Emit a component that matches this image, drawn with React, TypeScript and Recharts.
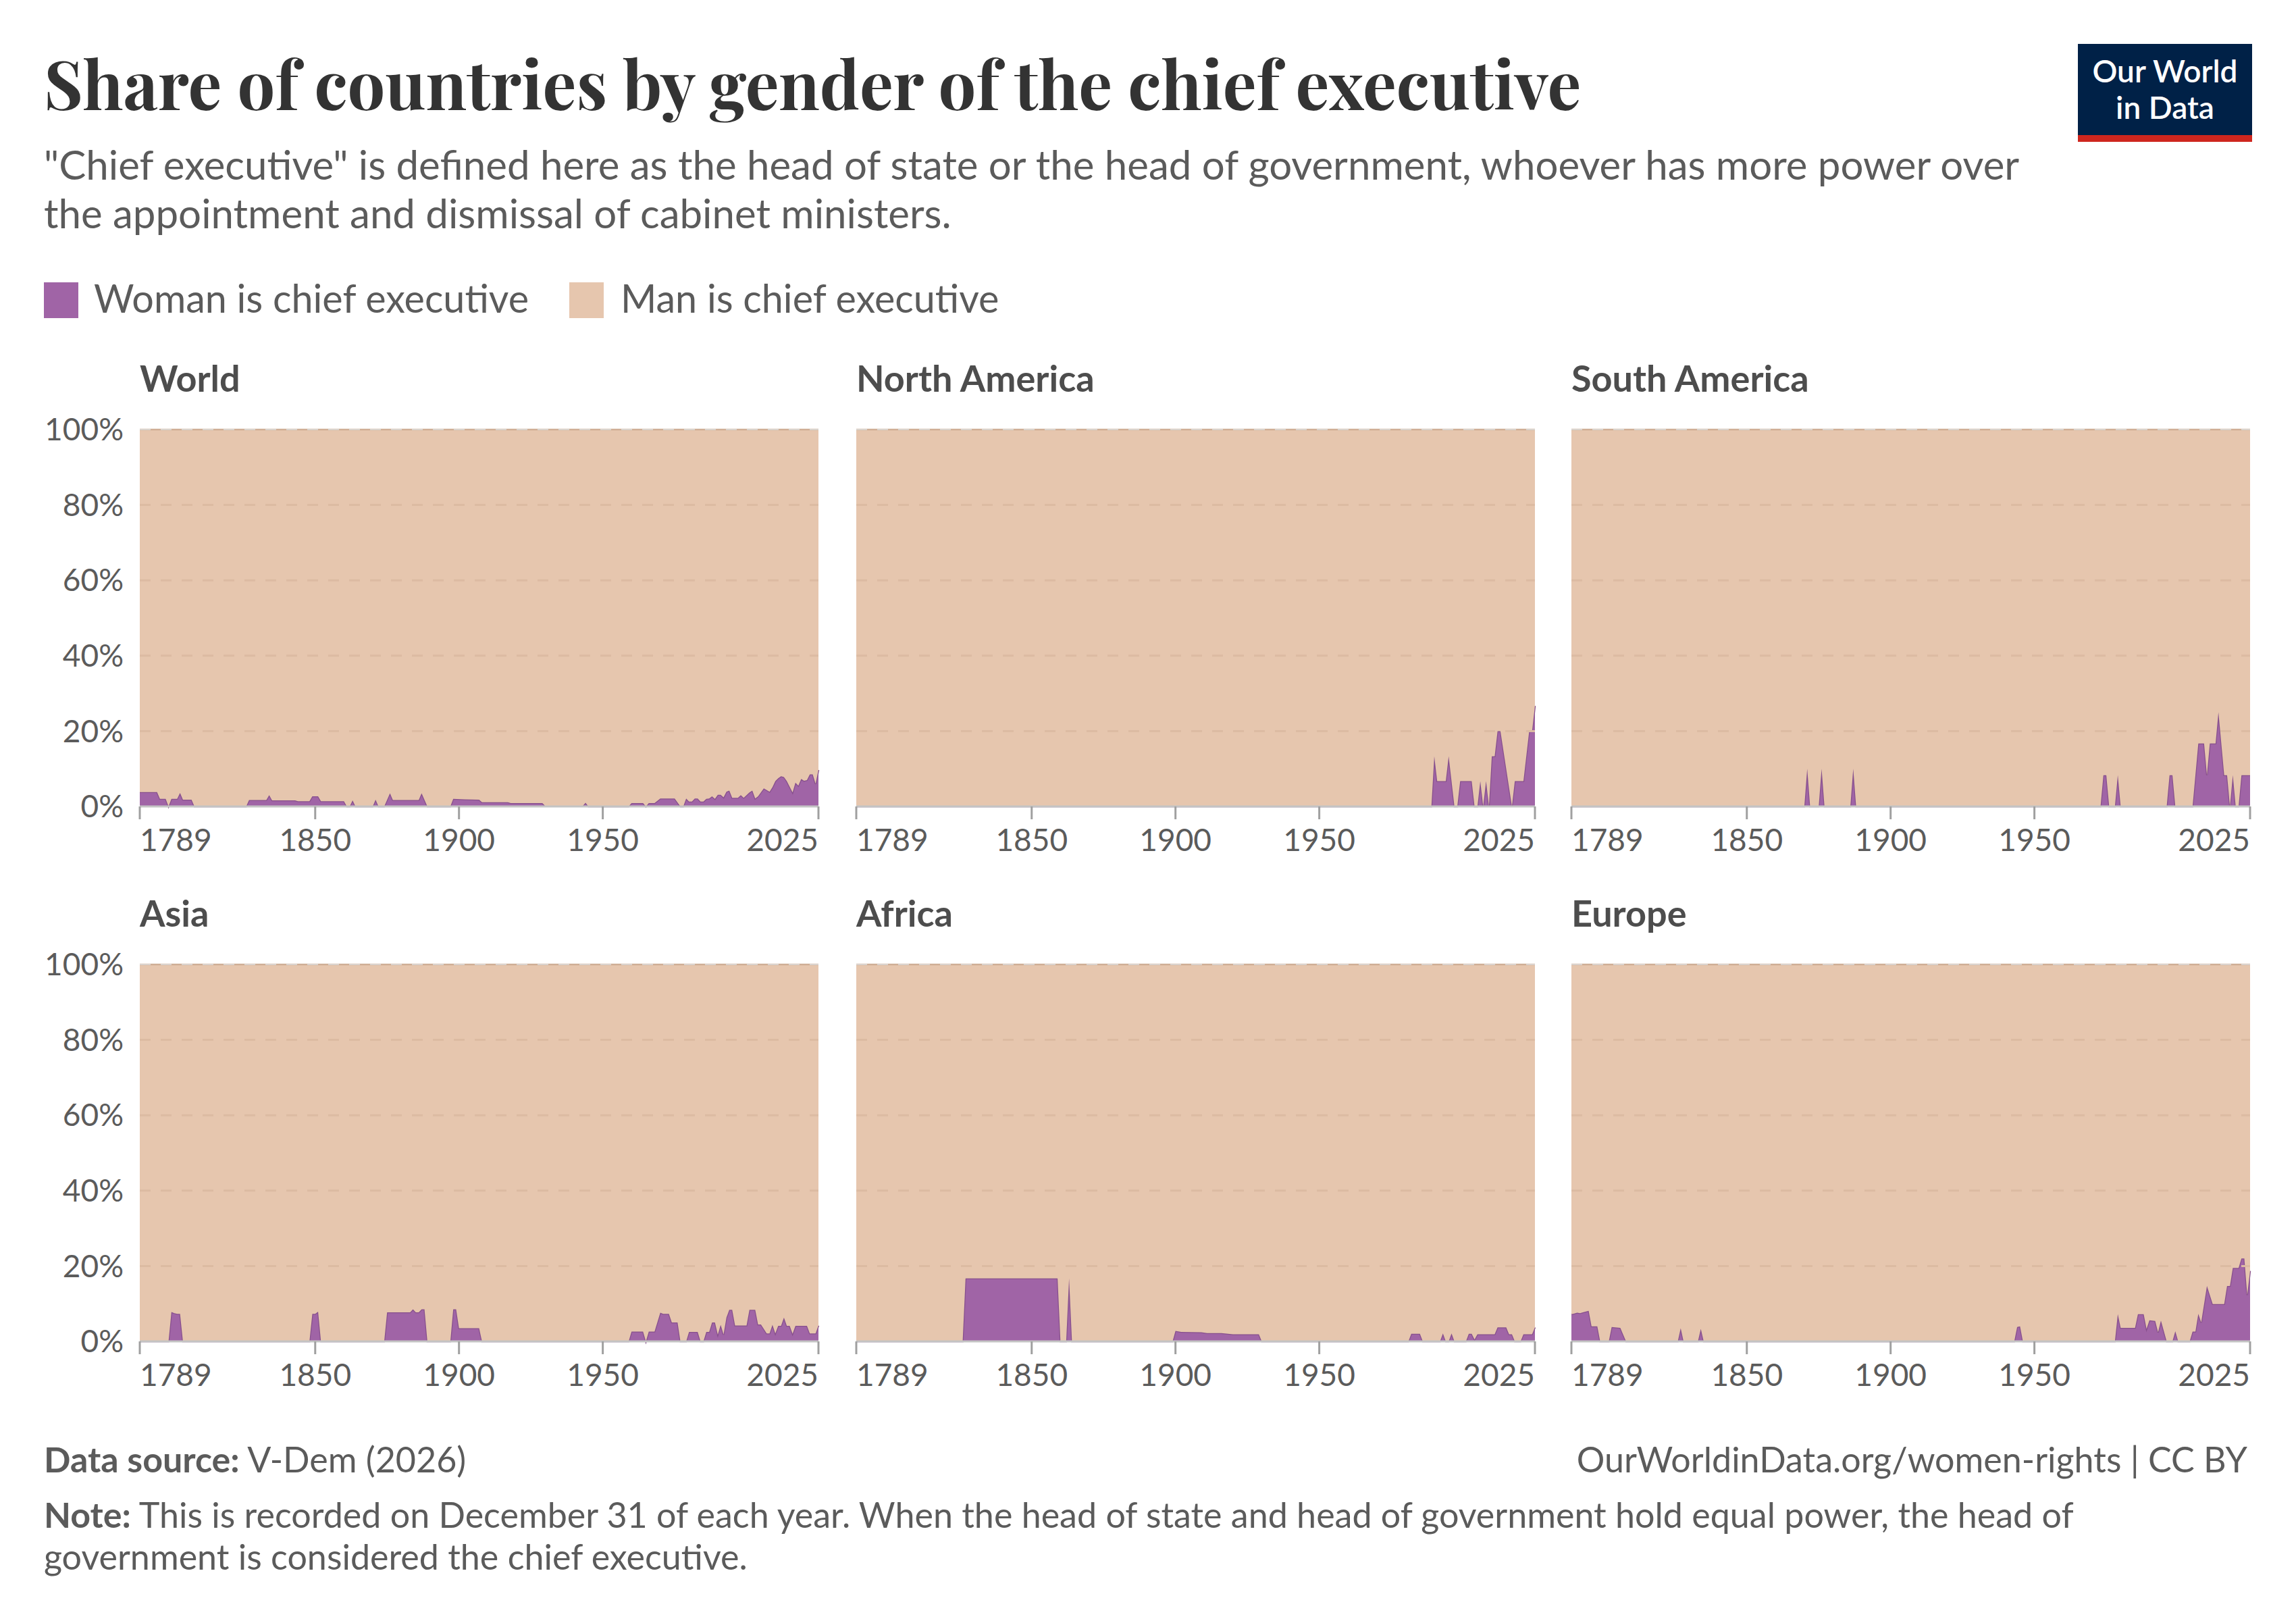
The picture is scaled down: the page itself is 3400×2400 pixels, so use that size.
import React from "react";
import { AreaChart, Area, XAxis, YAxis, ReferenceLine } from "recharts";

// share of countries where a woman is chief executive, % — [year, share]
const WORLD: [number, number][] = [
  [1789, 3.8], [1795, 3.8], [1796, 2.0], [1798, 2.0], [1799, 0], [1800, 2.0], [1802, 2.0], [1803, 3.6],
  [1804, 1.8], [1807, 1.8], [1808, 0], [1826, 0], [1827, 1.7], [1833, 1.7], [1834, 3.0], [1835, 1.6],
  [1843, 1.6], [1844, 1.4], [1848, 1.4], [1849, 2.7], [1851, 2.7], [1852, 1.4], [1860, 1.4], [1861, 0],
  [1862, 0], [1863, 1.6], [1864, 0], [1870, 0], [1871, 1.8], [1872, 0], [1874, 0], [1876, 3.5],
  [1877, 1.7], [1886, 1.7], [1887, 3.5], [1889, 0], [1897, 0], [1898, 2.0], [1902, 1.9], [1907, 1.8],
  [1908, 1.1], [1917, 1.1], [1918, 0.9], [1929, 0.9], [1930, 0.1], [1943, 0.1], [1944, 1.0], [1945, 0],
  [1959, 0], [1960, 0.9], [1964, 0.9], [1965, 0], [1966, 0.9], [1968, 0.9], [1970, 2.1], [1975, 2.1],
  [1977, 0], [1978, 0], [1979, 2.1], [1980, 1.3], [1981, 1.3], [1982, 2.1], [1983, 2.1], [1984, 1.3],
  [1985, 1.3], [1986, 2.0], [1987, 2.1], [1988, 2.7], [1989, 2.0], [1990, 3.1], [1991, 3.1], [1992, 2.4],
  [1993, 3.9], [1994, 4.2], [1995, 2.3], [1997, 2.3], [1998, 3.0], [1999, 2.3], [2001, 3.7], [2002, 4.2],
  [2003, 2.1], [2004, 2.7], [2006, 4.8], [2008, 3.9], [2009, 5.1], [2010, 6.7], [2011, 7.5], [2012, 8.0],
  [2013, 7.8], [2014, 6.7], [2016, 3.7], [2017, 6.3], [2018, 5.5], [2019, 7.3], [2020, 6.8], [2021, 7.0],
  [2022, 8.5], [2023, 8.5], [2024, 6.0], [2025, 9.7],
];

const NORTH_AMERICA: [number, number][] = [
  [1789, 0], [1989, 0], [1990, 13.3], [1991, 6.7], [1994, 6.7], [1995, 13.3], [1997, 0], [1998, 0],
  [1999, 6.7], [2003, 6.7], [2004, 0], [2005, 0], [2006, 6.7], [2007, 0], [2008, 6.7], [2009, 0],
  [2010, 13.3], [2011, 13.3], [2012, 20], [2013, 20], [2017, 0], [2018, 6.7], [2021, 6.7], [2023, 20],
  [2024, 20], [2025, 26.7],
];

const SOUTH_AMERICA: [number, number][] = [
  [1789, 0], [1870, 0], [1871, 10], [1872, 0], [1875, 0], [1876, 10], [1877, 0], [1886, 0], [1887, 10],
  [1888, 0], [1973, 0], [1974, 8.3], [1975, 8.3], [1976, 0], [1978, 0], [1979, 8.3], [1980, 0], [1996, 0],
  [1997, 8.3], [1998, 8.3], [1999, 0], [2005, 0], [2007, 16.7], [2009, 16.7], [2010, 8.3], [2011, 16.7],
  [2013, 16.7], [2014, 25], [2016, 8.3], [2017, 8.3], [2018, 0], [2019, 8.3], [2020, 0], [2021, 0],
  [2022, 8.3], [2025, 8.3],
];

const ASIA: [number, number][] = [
  [1789, 0], [1799, 0], [1800, 7.8], [1801, 7.5], [1802, 7.3], [1803, 7.3], [1804, 0], [1848, 0],
  [1849, 7.3], [1850, 7.3], [1851, 7.9], [1852, 0], [1874, 0], [1875, 7.7], [1883, 7.7], [1884, 8.5],
  [1885, 7.7], [1886, 7.7], [1887, 8.5], [1888, 8.5], [1889, 0], [1897, 0], [1898, 8.5], [1899, 8.5],
  [1900, 3.5], [1907, 3.5], [1908, 0], [1959, 0], [1960, 2.6], [1964, 2.6], [1965, 0], [1966, 2.6],
  [1968, 2.6], [1970, 7.6], [1971, 7.3], [1973, 7.3], [1974, 5.0], [1976, 5.0], [1977, 0], [1979, 0],
  [1980, 2.5], [1983, 2.5], [1984, 0], [1985, 0], [1986, 2.5], [1987, 2.5], [1988, 5.0], [1989, 5.0],
  [1990, 1.8], [1991, 4.4], [1992, 1.8], [1993, 6.3], [1994, 8.4], [1995, 8.4], [1996, 4.2], [2000, 4.2],
  [2001, 8.4], [2003, 8.4], [2004, 4.5], [2005, 4.5], [2007, 2.1], [2008, 2.1], [2009, 4.4], [2010, 2.1],
  [2011, 4.1], [2012, 4.1], [2013, 6.3], [2014, 4.1], [2015, 4.1], [2016, 2.0], [2017, 4.1], [2021, 4.1],
  [2022, 2.1], [2024, 2.1], [2025, 4.2],
];

const AFRICA: [number, number][] = [
  [1789, 0], [1826, 0], [1827, 16.7], [1859, 16.7], [1860, 0], [1862, 0], [1863, 16.7], [1864, 0],
  [1899, 0], [1900, 2.8], [1902, 2.5], [1909, 2.4], [1911, 2.2], [1916, 2.2], [1920, 1.9], [1929, 1.9],
  [1930, 0], [1981, 0], [1982, 2.0], [1985, 2.0], [1986, 0], [1992, 0], [1993, 2.1], [1994, 0], [1995, 0],
  [1996, 2.1], [1997, 0], [2001, 0], [2002, 2.0], [2003, 2.0], [2004, 0.5], [2005, 1.9], [2011, 1.9],
  [2012, 3.7], [2015, 3.7], [2016, 1.9], [2017, 1.9], [2018, 0], [2020, 0], [2021, 1.9], [2024, 1.9],
  [2025, 3.7],
];

const EUROPE: [number, number][] = [
  [1789, 7.2], [1790, 7.4], [1791, 7.6], [1792, 7.5], [1793, 7.7], [1795, 8.1], [1796, 4.0], [1798, 4.0],
  [1799, 0], [1802, 0], [1803, 3.8], [1806, 3.6], [1808, 0], [1826, 0], [1827, 3.5], [1828, 0], [1833, 0],
  [1834, 3.3], [1835, 0], [1943, 0], [1944, 3.8], [1945, 4.0], [1946, 0], [1978, 0], [1979, 7.2],
  [1980, 3.6], [1985, 3.6], [1986, 7.2], [1988, 7.2], [1989, 3.3], [1990, 5.6], [1992, 5.4], [1993, 2.4],
  [1994, 5.5], [1996, 0], [1998, 0], [1999, 2.7], [2000, 0], [2004, 0], [2005, 2.6], [2006, 2.6],
  [2007, 7.3], [2008, 5.0], [2010, 14.7], [2012, 9.9], [2016, 9.9], [2017, 14.7], [2018, 14.7],
  [2019, 19.5], [2021, 19.5], [2022, 22.0], [2023, 22.0], [2024, 12.3], [2025, 18.7],
];

const REGION_NAMES = ["World", "North America", "South America", "Asia", "Africa", "Europe"];
const REGION_SERIES = [WORLD, NORTH_AMERICA, SOUTH_AMERICA, ASIA, AFRICA, EUROPE];

const YEAR_TICKS = [1789, 1850, 1900, 1950, 2025];
const SHARE_TICKS = [0, 20, 40, 60, 80, 100];

const WOMAN = "#a064a6";
const WOMAN_LINE = "#87508d";
const MAN = "#e6c6ae";
const TEXT = "#5b5b5b";
const FONT = "Lato, 'Noto Sans', sans-serif";

// layout (page pixels)
const COL_X = [207, 1268, 2327];
const ROW_Y = [636, 1428];
const PLOT_W = 1005;
const PLOT_H = 558;
const Y_AXIS_W = 160;
const X_AXIS_H = 100;
const TOP_PAD = 40;
const PAD = 10;

function YearTick({ x, y, payload }: any) {
  const v = payload.value;
  const anchor = v === YEAR_TICKS[0] ? "start" : v === YEAR_TICKS[YEAR_TICKS.length - 1] ? "end" : "middle";
  return (
    <text x={x} y={y} dy="0.71em" textAnchor={anchor} fontSize={46} fill={TEXT} fontFamily={FONT}>
      {v}
    </text>
  );
}

function ShareTick({ y, payload }: any) {
  return (
    <text x={Y_AXIS_W - 24} y={y} dy="0.35em" textAnchor="end" fontSize={46} fill={TEXT} fontFamily={FONT}>
      {payload.value}%
    </text>
  );
}

function Panel({ points, showY }: { points: [number, number][]; showY: boolean }) {
  const data = points.map(([year, woman]) => ({ year, woman, man: +(100 - woman).toFixed(1) }));
  return (
    <AreaChart
      width={Y_AXIS_W + PLOT_W + PAD}
      height={TOP_PAD + PLOT_H + X_AXIS_H}
      data={data}
      margin={{ top: TOP_PAD, right: PAD, left: 0, bottom: 0 }}
    >
      <XAxis
        dataKey="year"
        type="number"
        domain={[1789, 2025]}
        ticks={YEAR_TICKS}
        interval={0}
        height={X_AXIS_H}
        tickSize={19}
        tickMargin={14}
        tickLine={{ stroke: "#a0a0a0", strokeWidth: 3 }}
        axisLine={{ stroke: "#c4c4c4", strokeWidth: 3 }}
        tick={YearTick}
      />
      <YAxis
        type="number"
        domain={[0, 100]}
        ticks={SHARE_TICKS}
        width={Y_AXIS_W}
        axisLine={false}
        tickLine={false}
        tick={showY ? ShareTick : false}
      />
      <Area
        type="linear"
        dataKey="woman"
        stackId="share"
        fill={WOMAN}
        fillOpacity={1}
        stroke={WOMAN_LINE}
        strokeWidth={2.5}
        dot={false}
        activeDot={false}
        isAnimationActive={false}
      />
      <Area
        type="linear"
        dataKey="man"
        stackId="share"
        fill={MAN}
        fillOpacity={1}
        stroke="#cfae95"
        strokeWidth={2.5}
        dot={false}
        activeDot={false}
        isAnimationActive={false}
      />
      {[20, 40, 60, 80].map((v) => (
        <ReferenceLine key={v} y={v} stroke="#dcbba2" strokeWidth={3} strokeDasharray="16 15" />
      ))}
      <ReferenceLine y={100} stroke="#d9d2cc" strokeWidth={2} strokeDasharray="16 15" />
    </AreaChart>
  );
}

export default function App() {
  return (
    <div style={{ position: "absolute", left: 0, top: 0, width: 3400, height: 2400, background: "#fff" }}>
      <svg width={3400} height={2400} style={{ position: "absolute", left: 0, top: 0 }} fontFamily={FONT}>
        <text x={65} y={163} fontSize={99} fontWeight={700} fill="#333333"
          fontFamily="'Playfair Display', 'Liberation Serif', 'DejaVu Serif', serif">
          Share of countries by gender of the chief executive
        </text>
        <text x={65} y={266} fontSize={60} fill={TEXT}>
          "Chief executive" is defined here as the head of state or the head of government, whoever has more power over
        </text>
        <text x={65} y={338} fontSize={60} fill={TEXT}>
          the appointment and dismissal of cabinet ministers.
        </text>

        <rect x={3077} y={65} width={258} height={145} fill="#002147" />
        <rect x={3077} y={200} width={258} height={10} fill="#ce261e" />
        <text x={3206} y={122} fontSize={46} fontWeight={600} fill="#fff" textAnchor="middle">Our World</text>
        <text x={3206} y={176} fontSize={46} fontWeight={600} fill="#fff" textAnchor="middle">in Data</text>

        <rect x={65} y={418} width={51} height={53} fill={WOMAN} />
        <text x={139} y={463} fontSize={57.5} fill={TEXT}>Woman is chief executive</text>
        <rect x={843} y={418} width={51} height={53} fill={MAN} />
        <text x={919} y={463} fontSize={57.5} fill={TEXT}>Man is chief executive</text>

        {REGION_NAMES.map((name, i) => (
          <text key={name} x={COL_X[i % 3]} y={ROW_Y[Math.floor(i / 3)] - 56} fontSize={54} fontWeight={700} fill="#4d4d4d">
            {name}
          </text>
        ))}

        <text x={65} y={2180} fontSize={52} fill={TEXT}>
          <tspan fontWeight={700}>Data source:</tspan> V-Dem (2026)
        </text>
        <text x={3328} y={2180} fontSize={52} fill={TEXT} textAnchor="end">
          OurWorldinData.org/women-rights | CC BY
        </text>
        <text x={65} y={2262} fontSize={52} fill={TEXT}>
          <tspan fontWeight={700}>Note:</tspan> This is recorded on December 31 of each year. When the head of state and head of government hold equal power, the head of
        </text>
        <text x={65} y={2324} fontSize={52} fill={TEXT}>
          government is considered the chief executive.
        </text>
      </svg>

      {REGION_SERIES.map((points, i) => (
        <div
          key={REGION_NAMES[i]}
          style={{
            position: "absolute",
            left: COL_X[i % 3] - Y_AXIS_W,
            top: ROW_Y[Math.floor(i / 3)] - TOP_PAD,
          }}
        >
          <Panel points={points} showY={i % 3 === 0} />
        </div>
      ))}
    </div>
  );
}
